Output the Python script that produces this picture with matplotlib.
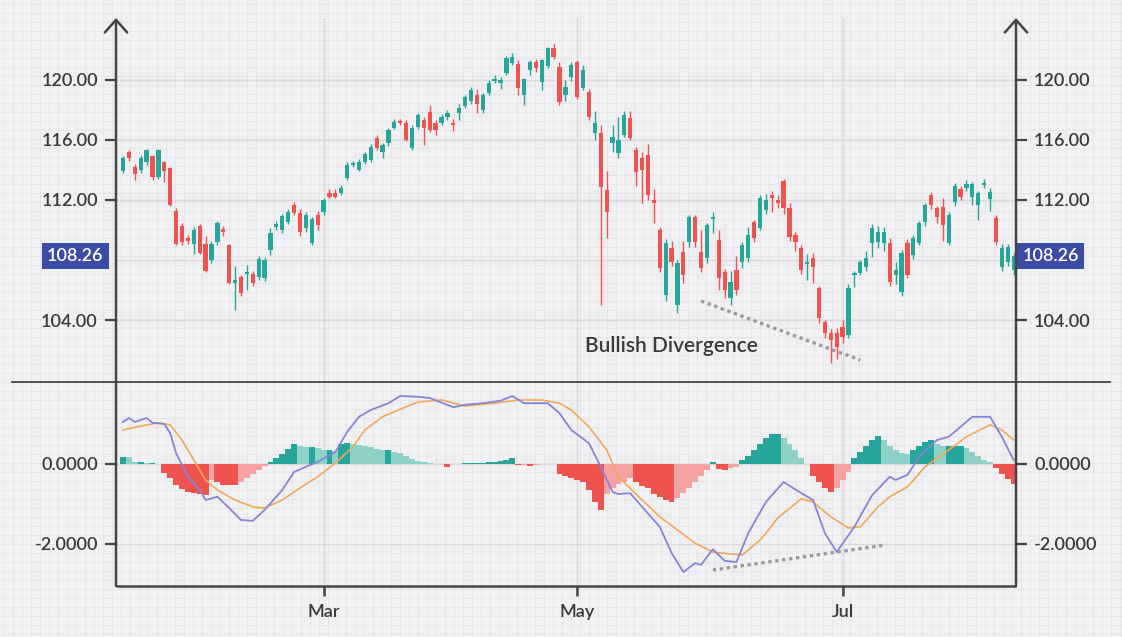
import matplotlib.pyplot as plt
import numpy as np
import pandas as pd

plt.rcParams['font.family'] = ['Lato', 'DejaVu Sans']
plt.rcParams['font.weight'] = 'semibold'
plt.rcParams['axes.unicode_minus'] = False

# trading days shown on the chart
dates = pd.bdate_range('2023-01-12', periods=152)

opens = [113.9, 115.2, 114.2, 114.0, 114.5, 114.9, 113.5, 114.5, 114.1, 111.3,
         110.3, 109.5, 109.1, 110.3, 109.1, 108.0, 109.2, 110.1, 109.0, 106.5,
         106.9, 107.1, 107.1, 106.9, 106.8, 108.67, 110.2, 110.0, 110.53, 111.67,
         111.13, 110.13, 109.13, 111.0, 111.2, 112.47, 112.47, 112.47, 113.47, 114.33,
         114.0, 114.53, 114.67, 116.13, 115.2, 115.8, 116.8, 117.27, 117.13, 115.47,
         116.87, 117.33, 117.87, 117.13, 117.13, 117.53, 117.13, 117.8, 118.27, 118.6,
         119.0, 118.0, 119.13, 119.93, 119.8, 120.47, 121.13, 121.07, 119.0, 120.67,
         121.2, 119.87, 120.93, 122.13, 120.87, 119.0, 120.2, 121.2, 119.47, 119.2,
         116.47, 116.47, 112.67, 115.8, 115.13, 116.33, 117.47, 115.33, 114.8, 115.0,
         112.0, 110.0, 105.67, 108.8, 105.0, 108.53, 109.2, 110.87, 108.53, 108.13,
         110.73, 109.33, 107.2, 105.47, 107.33, 107.87, 108.13, 110.53, 110.13, 111.33,
         112.33, 112.0, 113.27, 111.47, 109.67, 108.8, 107.73, 108.13, 106.13, 103.87,
         103.13, 103.13, 103.53, 103.0, 107.0, 107.13, 107.53, 109.13, 109.2, 109.13,
         109.13, 107.0, 105.87, 109.13, 108.33, 109.13, 110.53, 112.33, 111.47, 111.53,
         109.13, 111.87, 112.73, 112.8, 112.2, 111.67, 113.0, 112.07, 110.8, 107.53,
         107.87, 107.33]
highs = [114.9, 115.3, 114.4, 115.0, 115.4, 115.0, 115.4, 114.6, 114.2, 111.5,
         110.5, 109.7, 110.2, 110.4, 109.6, 109.3, 110.6, 110.3, 109.1, 107.6,
         107.0, 107.7, 107.3, 108.3, 108.2, 110.13, 110.6, 111.1, 111.4, 111.9,
         111.4, 111.2, 110.9, 111.3, 112.1, 112.7, 112.7, 113.0, 114.5, 114.6,
         114.7, 115.2, 115.7, 116.3, 115.8, 116.8, 117.4, 117.4, 117.3, 117.0,
         117.8, 117.5, 118.3, 117.3, 117.7, 118.0, 117.4, 118.4, 119.0, 119.5,
         119.4, 119.1, 120.0, 120.3, 120.2, 121.6, 121.8, 121.3, 120.1, 121.3,
         121.4, 121.4, 122.2, 122.4, 121.2, 120.0, 121.2, 121.3, 121.0, 119.4,
         117.9, 117.0, 113.9, 117.0, 117.5, 117.9, 117.9, 115.5, 115.2, 115.7,
         112.7, 110.2, 109.4, 109.3, 108.0, 109.3, 111.0, 111.0, 110.0, 110.5,
         111.2, 110.0, 107.4, 107.3, 108.3, 109.2, 110.2, 110.7, 112.3, 112.4,
         112.6, 112.3, 113.4, 111.8, 109.9, 109.0, 108.4, 108.5, 106.3, 104.0,
         103.4, 103.5, 104.0, 106.4, 107.3, 108.0, 108.6, 110.4, 110.3, 110.2,
         109.5, 107.9, 108.7, 109.4, 109.7, 110.6, 111.8, 112.5, 111.6, 112.1,
         111.2, 113.1, 112.9, 113.3, 113.2, 112.6, 113.4, 112.8, 111.0, 109.1,
         109.1, 108.5]
lows = [113.8, 114.6, 113.3, 113.8, 114.3, 113.3, 113.4, 113.2, 111.6, 109.0,
        109.0, 109.1, 108.4, 108.4, 107.2, 107.8, 109.0, 109.6, 106.4, 104.7,
        105.6, 106.0, 106.3, 106.7, 106.6, 108.33, 110.0, 109.8, 110.4, 111.0,
        109.6, 109.9, 109.0, 110.0, 111.0, 112.1, 112.1, 112.3, 113.3, 114.2,
        113.9, 114.4, 114.5, 115.3, 114.8, 115.6, 116.7, 117.0, 115.9, 115.3,
        116.7, 115.67, 116.5, 116.3, 117.0, 117.3, 116.6, 117.3, 118.1, 118.4,
        117.8, 117.8, 119.0, 119.8, 119.4, 120.3, 121.0, 119.0, 118.3, 120.3,
        120.5, 119.3, 120.8, 121.4, 118.3, 118.6, 119.9, 118.7, 119.3, 117.3,
        116.0, 105.0, 109.5, 115.2, 114.8, 116.2, 116.0, 112.9, 111.8, 112.0,
        110.5, 107.2, 105.3, 107.6, 104.47, 106.5, 108.9, 108.9, 107.2, 107.8,
        109.8, 106.0, 105.5, 105.0, 105.7, 107.5, 107.9, 109.2, 110.0, 111.1,
        111.2, 111.5, 111.1, 109.3, 108.6, 107.1, 106.7, 106.5, 103.8, 102.8,
        101.13, 101.4, 102.5, 102.8, 106.2, 107.0, 107.3, 108.2, 108.8, 108.6,
        106.3, 106.4, 105.6, 106.8, 108.1, 109.0, 110.3, 111.4, 110.5, 109.3,
        109.0, 111.6, 112.0, 112.6, 111.7, 110.7, 112.8, 111.3, 109.0, 107.3,
        107.6, 107.0]
closes = [114.8, 114.8, 113.7, 114.8, 115.3, 113.5, 115.3, 113.9, 111.7, 109.1,
          109.2, 109.3, 110.0, 108.5, 107.3, 109.1, 110.5, 109.9, 106.5, 106.7,
          105.8, 107.2, 106.5, 108.1, 108.0, 109.8, 110.4, 110.93, 111.2, 111.13,
          109.87, 111.0, 110.73, 110.33, 112.0, 112.2, 112.2, 112.8, 114.33, 114.47,
          114.53, 115.07, 115.53, 115.47, 115.67, 116.67, 117.2, 117.13, 116.0, 116.8,
          117.67, 116.8, 116.67, 116.67, 117.53, 117.8, 117.0, 118.13, 118.87, 119.33,
          118.4, 119.0, 119.8, 120.07, 120.0, 121.47, 121.53, 119.47, 120.07, 121.2,
          120.8, 121.33, 122.13, 121.53, 118.53, 119.53, 121.0, 118.87, 120.67, 117.53,
          117.13, 112.87, 111.2, 116.2, 116.0, 117.67, 116.13, 113.87, 114.0, 112.33,
          111.8, 107.47, 109.13, 107.87, 107.8, 107.0, 110.87, 109.2, 107.47, 110.33,
          110.87, 106.8, 106.0, 106.53, 106.0, 109.0, 109.67, 109.47, 112.13, 112.0,
          112.13, 111.8, 111.47, 109.53, 109.2, 107.33, 107.87, 107.53, 104.13, 103.13,
          102.67, 102.2, 102.87, 106.13, 107.13, 107.87, 108.13, 110.13, 109.87, 109.87,
          106.53, 107.33, 108.47, 107.0, 109.47, 110.47, 111.67, 111.67, 110.87, 110.33,
          111.0, 112.93, 112.2, 113.07, 113.07, 112.47, 113.13, 112.53, 109.2, 108.8,
          108.87, 108.26]

# MACD line and signal line, read at selected trading days
macd_days = [0, 1, 2, 4, 5, 7, 8, 9, 11, 13, 14, 16, 18, 20, 22, 24, 27, 29, 31, 33,
             36, 38, 40, 42, 45, 47, 50, 52, 56, 58, 61, 64, 66, 68, 72, 74, 76, 79, 81, 83,
             84, 86, 88, 91, 93, 95, 97, 98, 100, 102, 104, 106, 109, 112, 115, 117, 119, 121,
             124, 127, 130, 131, 133, 135, 138, 140, 142, 144, 147, 149, 151]
macd_vals = [1.05, 1.15, 1.05, 1.15, 1.03, 1.0, 0.77, 0.27, -0.32, -0.65, -0.9, -0.82, -1.1,
             -1.4, -1.42, -1.15, -0.65, -0.2, -0.07, 0.05, 0.3, 0.8, 1.18, 1.35, 1.52, 1.70,
             1.68, 1.65, 1.42, 1.48, 1.52, 1.58, 1.7, 1.52, 1.52, 1.27, 0.85, 0.52, -0.07,
             -0.7, -0.75, -0.73, -1.07, -1.57, -2.22, -2.7, -2.48, -2.52, -2.13, -2.42, -2.45,
             -1.73, -0.95, -0.45, -0.73, -0.9, -1.73, -2.2, -1.57, -0.78, -0.32, -0.4, -0.27,
             0.18, 0.6, 0.68, 0.93, 1.18, 1.18, 0.68, 0.1]
signal_days = [0, 3, 6, 8, 10, 12, 14, 16, 19, 22, 24, 27, 30, 33, 36, 39, 41, 44, 47, 50,
               54, 58, 63, 67, 71, 74, 76, 79, 82, 84, 88, 91, 94, 97, 100, 103, 105, 106, 108,
               109, 111, 115, 117, 120, 123, 125, 128, 130, 133, 136, 140, 143, 147, 149, 151]
signal_vals = [0.85, 0.95, 1.03, 0.98, 0.6, 0.1, -0.4, -0.65, -0.9, -1.07, -1.1, -0.9, -0.6,
               -0.32, 0.02, 0.43, 0.85, 1.18, 1.37, 1.55, 1.6, 1.45, 1.52, 1.6, 1.6, 1.52, 1.35,
               0.93, 0.35, -0.32, -0.9, -1.32, -1.65, -1.98, -2.2, -2.25, -2.27, -2.15, -1.9,
               -1.73, -1.35, -0.87, -0.95, -1.32, -1.6, -1.57, -1.07, -0.82, -0.57, -0.07, 0.35,
               0.68, 0.98, 0.85, 0.6]
hist_vals = [0.18, 0.17, 0.04, 0.06, 0.02, 0.03, 0.0,
             -0.23, -0.35, -0.52, -0.62, -0.7, -0.72, -0.75, -0.77, -0.4, -0.45, -0.52, -0.52,
             -0.52, -0.45, -0.35, -0.25, -0.15, -0.05,
             0.05, 0.15, 0.25, 0.38, 0.5, 0.45, 0.42, 0.42, 0.4, 0.35, 0.35, 0.33, 0.5, 0.53,
             0.5, 0.48, 0.45, 0.42, 0.38, 0.35, 0.35,
             0.3, 0.27, 0.2, 0.12, 0.08, 0.05, 0.03, 0.0, 0.0, -0.07, 0.0, 0.0, 0.03, 0.03, 0.03,
             0.03, 0.04, 0.05, 0.07, 0.1, 0.15, -0.03, -0.02, -0.04, -0.03, 0.0, 0.0, 0.0,
             -0.25, -0.3, -0.35, -0.4, -0.45, -0.65, -0.95, -1.15, -0.75, -0.6, -0.5, -0.45,
             -0.35, -0.45, -0.55, -0.6, -0.75, -0.82, -0.9, -0.95, -0.85, -0.72, -0.6, -0.45,
             -0.3, -0.15, 0.05, -0.12, -0.15, -0.1, -0.08,
             0.1, 0.2, 0.35, 0.5, 0.65, 0.75, 0.75, 0.65, 0.5, 0.35, 0.15, 0.0,
             -0.3, -0.45, -0.6, -0.7, -0.6, -0.4, -0.2,
             0.15, 0.3, 0.45, 0.6, 0.7, 0.6, 0.45, 0.35, 0.28, 0.25, 0.35, 0.45, 0.55, 0.6,
             0.5, 0.45, 0.45, 0.45, 0.45, 0.4, 0.3, 0.2, 0.1, 0.05,
             -0.1, -0.25, -0.38, -0.5]

last_price = 108.26
price_ticks = [104, 112, 116, 120]
price_grid = [104, 108, 112, 116, 120]
macd_ticks = [-2, 0]
tick_months = [3, 5, 7]

# divergence trend lines (day index, value)
div_price_days = [98, 125]
div_price_vals = [105.27, 101.33]
div_macd_days = [100, 129]
div_macd_vals = [-2.65, -2.03]

# colours
BG = '#f1f1f3'
UP = '#26a69a'
DOWN = '#ef5350'
UP_LIGHT = '#8fd1c7'
DOWN_LIGHT = '#f4a3a2'
INK = '#444444'
TXT = '#3a3a3a'

x = np.arange(len(dates))
o = np.array(opens)
c = np.array(closes)

fig = plt.figure(figsize=(11.22, 6.37), dpi=100)
fig.patch.set_facecolor(BG)

# graph paper background
bg = fig.add_axes([0, 0, 1, 1], zorder=-5)
bg.set_xlim(0, 1122)
bg.set_ylim(637, 0)
bg.axis('off')
bg.vlines(np.arange(4, 1122, 9), 0, 637, color='#e4e4e8', lw=0.6)
bg.hlines(np.arange(4, 637, 9), 0, 1122, color='#e4e4e8', lw=0.6)

L, R = 116 / 1122, 1016 / 1122
B, MID, T = 1 - 586 / 637, 1 - 382 / 637, 1 - 18 / 637

ax = fig.add_axes([L, MID, R - L, T - MID])
axm = fig.add_axes([L, B, R - L, MID - B], sharex=ax)
for a in (ax, axm):
    a.set_facecolor('none')
    for s in a.spines.values():
        s.set_visible(False)

month_pos = [int(np.argmax(dates.month == m)) for m in tick_months]
month_lab = [dates[p].strftime('%b') for p in month_pos]

# candles
cols = np.where(c >= o, UP, DOWN)
ax.vlines(x, lows, highs, colors=cols, lw=1.0, zorder=3)
ax.bar(x, np.maximum(np.abs(c - o), 0.1), bottom=np.minimum(o, c), width=0.72,
       color=cols, linewidth=0, zorder=4)

for g in price_grid:
    ax.axhline(g, color='#d9d9dd', lw=1.0, zorder=1)
for p in month_pos:
    ax.axvline(p, color='#d9d9dd', lw=1.0, zorder=1)
    axm.axvline(p, color='#d9d9dd', lw=1.0, zorder=1)
for g in macd_ticks:
    axm.axhline(g, color='#d9d9dd', lw=1.0, zorder=1)

ax.plot(div_price_days, div_price_vals, linestyle=(0, (1, 1.1)), lw=2.4,
        color='#9a9a9a', zorder=5)
ax.text(93, 102.3, 'Bullish Divergence', ha='center', va='center', fontsize=15,
        color=TXT, zorder=6)

ax.set_xlim(-1.19, 151.4)
ax.set_ylim(99.87, 124.13)
ax.set_yticks(price_ticks)
ax.yaxis.set_major_formatter(plt.FormatStrFormatter('%.2f'))
ax.tick_params(axis='y', left=True, right=True, labelleft=True, labelright=True,
               length=8, width=1.6, color=INK, pad=5, labelsize=13, labelcolor=TXT)
ax.tick_params(axis='x', bottom=False, labelbottom=False)

# current price labels
tr = ax.get_yaxis_transform()
for xf, ha in [(-0.0139, 'right'), (1.0072, 'left')]:
    ax.text(xf, last_price, f'{last_price:.2f}', transform=tr, ha=ha, va='center',
            fontsize=13, color='white', clip_on=False, zorder=8,
            bbox=dict(boxstyle='square,pad=0.28', fc='#3b4ba6', ec='none'))

# MACD panel
hcols = []
for k, h in enumerate(hist_vals):
    prev = hist_vals[k - 1] if k else h
    if h >= 0:
        hcols.append(UP if h >= prev else UP_LIGHT)
    else:
        hcols.append(DOWN if h <= prev else DOWN_LIGHT)
axm.bar(x, hist_vals, width=1.0, color=hcols, linewidth=0, zorder=2)
axm.plot(signal_days, signal_vals, color='#f3a859', lw=1.2, zorder=3)
axm.plot(macd_days, macd_vals, color='#8585d6', lw=1.3, zorder=4)
axm.plot(div_macd_days, div_macd_vals, linestyle=(0, (1, 1.1)), lw=2.4,
         color='#9a9a9a', zorder=5)

axm.set_ylim(-3.05, 2.05)
axm.set_yticks(macd_ticks)
axm.yaxis.set_major_formatter(plt.FormatStrFormatter('%.4f'))
axm.tick_params(axis='y', left=True, right=True, labelleft=True, labelright=True,
                length=8, width=1.6, color=INK, pad=5, labelsize=13, labelcolor=TXT)
axm.set_xticks(month_pos)
axm.set_xticklabels(month_lab)
axm.tick_params(axis='x', length=7, width=1.8, color=INK, pad=6, labelsize=13,
                labelcolor=TXT)

# frame: arrows, bottom line and separator
fr = fig.add_axes([0, 0, 1, 1], zorder=10)
fr.set_xlim(0, 1)
fr.set_ylim(0, 1)
fr.axis('off')
fr.plot([L, R], [B, B], color=INK, lw=1.8, solid_capstyle='butt')
fr.plot([12 / 1122, 1110 / 1122], [MID, MID], color=INK, lw=1.3)
for xx in (L, R):
    fr.annotate('', xy=(xx, T), xytext=(xx, B),
                arrowprops=dict(arrowstyle='->,head_length=0.45,head_width=0.4',
                                lw=1.8, color=INK, mutation_scale=20,
                                shrinkA=0, shrinkB=0))

fig.savefig('out.png', dpi=100, facecolor=BG)
